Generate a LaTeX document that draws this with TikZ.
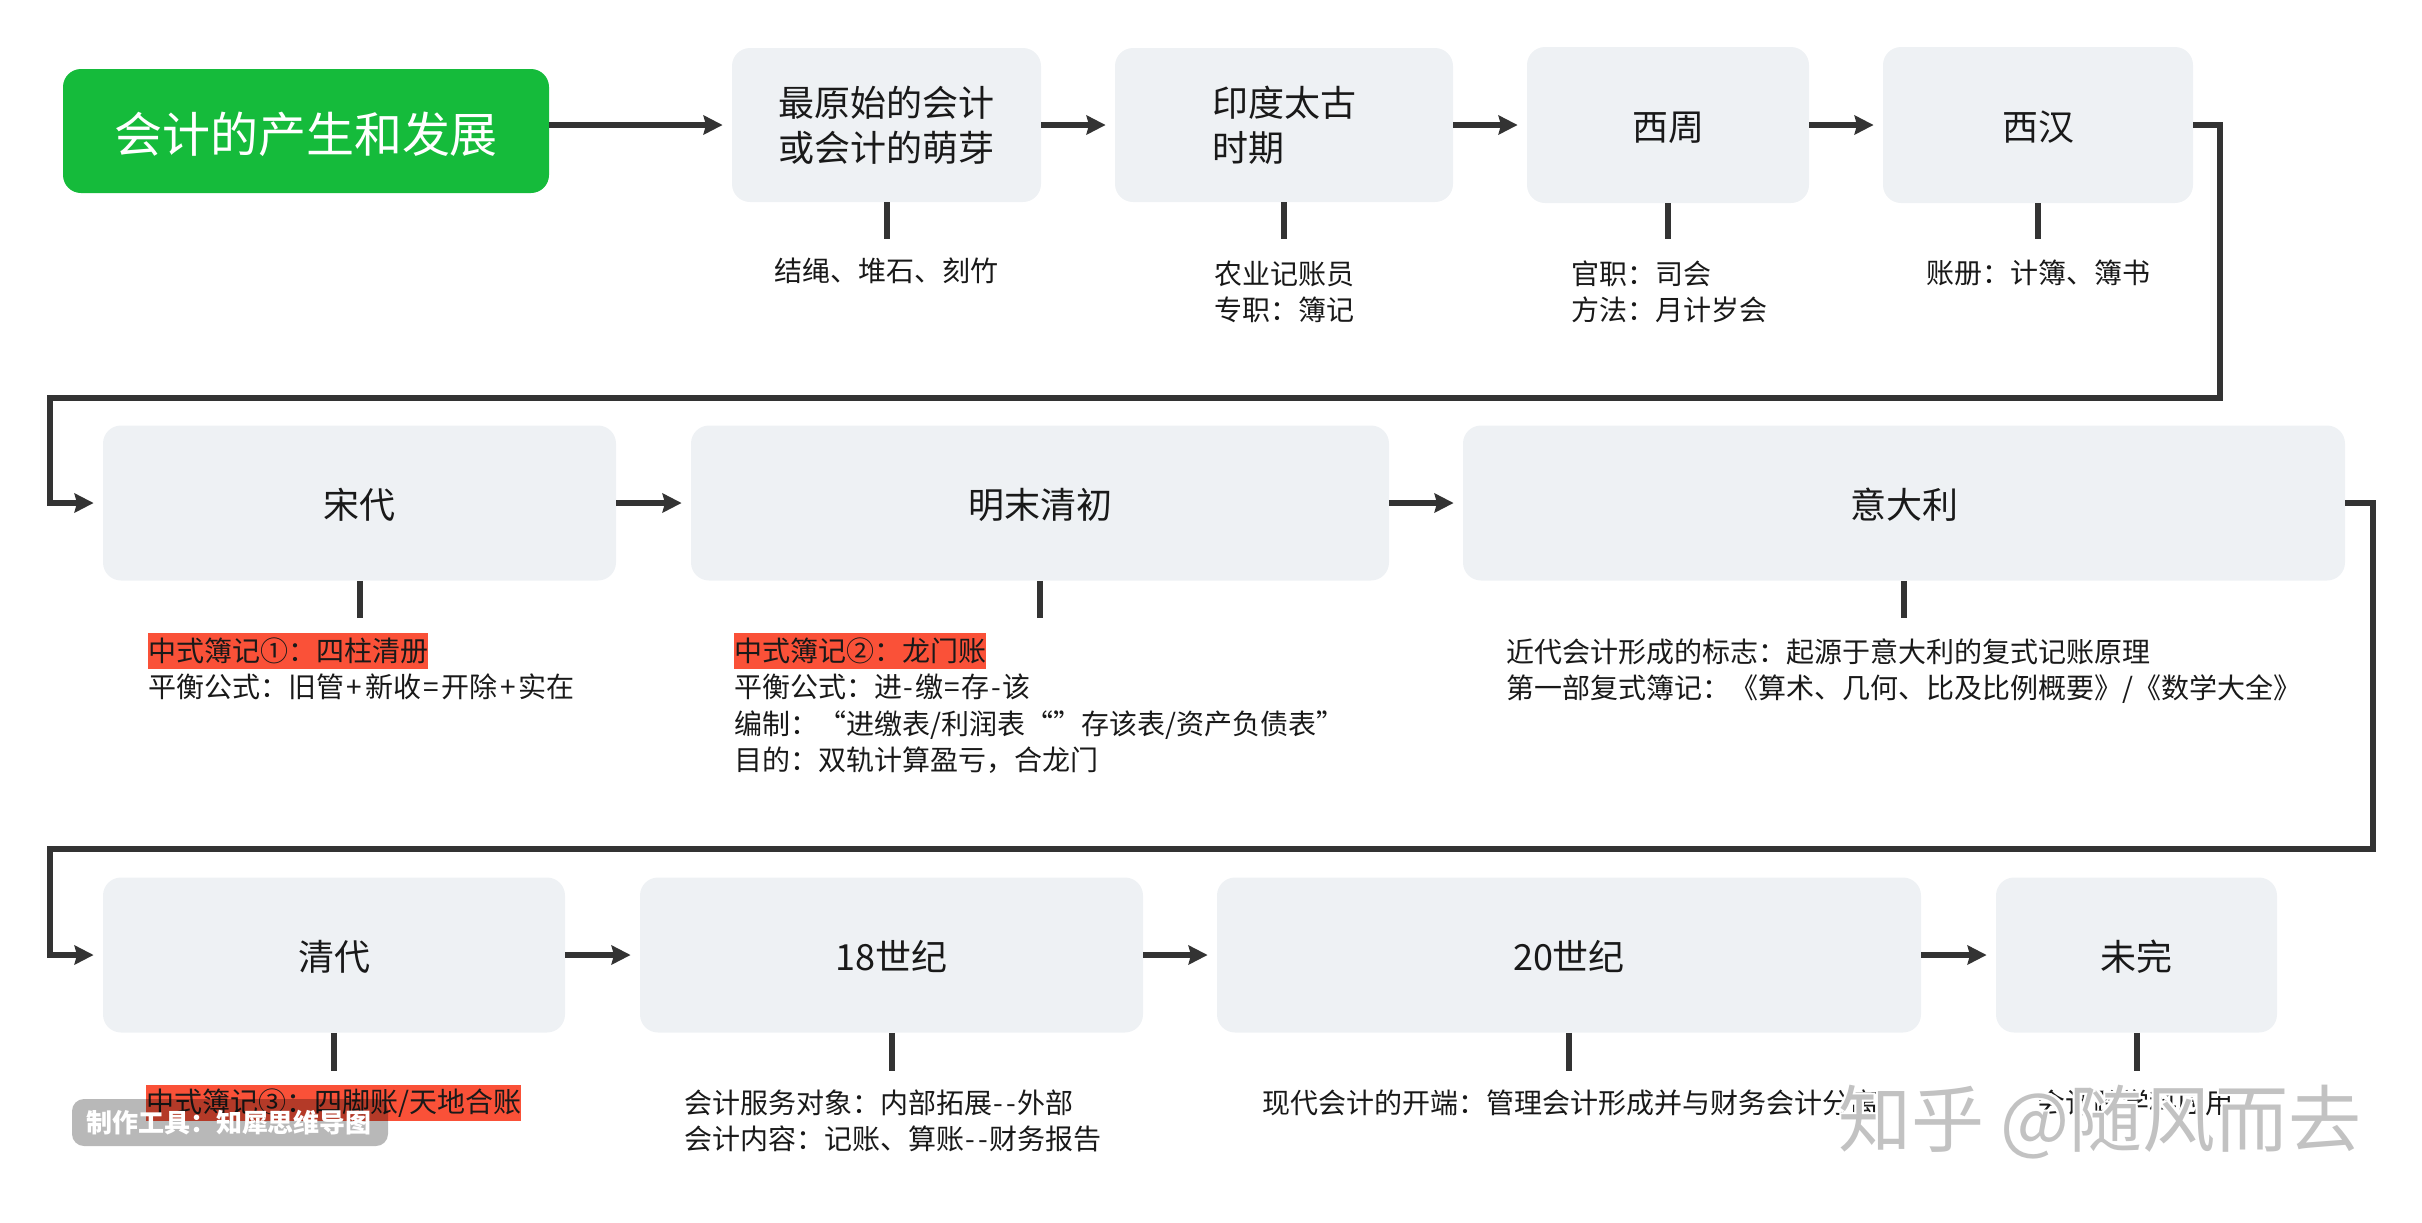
\documentclass[tikz,border=0pt]{standalone}
\usepackage{fontspec}
\setmainfont{Noto Sans CJK SC}
\usetikzlibrary{arrows.meta}
\definecolor{boxgray}{HTML}{EEF1F4}
\definecolor{rootgreen}{HTML}{15BB3B}
\definecolor{linedark}{HTML}{333333}
\definecolor{hlred}{HTML}{FA5138}
\definecolor{wmgray}{HTML}{C2C2C2}
\newcommand\wideop[1]{\kern1.3pt#1\kern1.3pt}
\newcommand\narrowop[1]{\kern.75pt#1\kern.75pt}
\tikzset{
  gbox/.style={fill=boxgray,rounded corners=9pt,inner sep=0pt,minimum height=77.5pt,font=\fontsize{18}{22.5}\selectfont,text=black!90},
  oneline/.style={text height=16pt,text depth=1pt},
  rootbox/.style={fill=rootgreen,rounded corners=9pt,inner sep=0pt,minimum width=243pt,minimum height=62pt,text=white,text height=22pt,text depth=.8pt,font=\fontsize{24}{28}\selectfont},
  flow/.style={draw=linedark,line width=3pt,line join=miter,-{Stealth[length=9.5pt,width=9.5pt,inset=1.2pt]},shorten >=4.5pt},
  stemline/.style={draw=linedark,line width=3pt},
  sublabel/.style={inner sep=0pt,align=left,anchor=west,font=\fontsize{14}{18.25}\selectfont,text=black!90},
  hilite/.style={sublabel,fill=hlred,minimum height=18pt},
  tagbox/.style={fill=black,fill opacity=.28,rounded corners=6pt,inner sep=0pt,minimum width=158pt,minimum height=23.5pt},
  tagtext/.style={inner sep=0pt,text=white,font=\fontsize{13}{15}\bfseries\selectfont},
  wmark/.style={inner sep=0pt,anchor=west,font=\fontsize{36.5}{40}\selectfont}
}
\begin{document}
\begin{tikzpicture}[x=.5pt,y=-.5pt]
\useasboundingbox (0,0) rectangle (2422,1222);
% nodes
\node[rootbox] (r) at (306,131) {会计的产生和发展};
\node[gbox,align=left,minimum width=154.5pt,minimum height=77pt] (b1) at (886.5,125) {最原始的会计\\或会计的萌芽};
\node[gbox,align=left,minimum width=169pt,minimum height=77pt] (b2) at (1284,125) {印度太古\\时期};
\node[gbox,oneline,minimum width=141pt,minimum height=78pt] (b3) at (1668,125) {西周};
\node[gbox,oneline,minimum width=155pt,minimum height=78pt] (b4) at (2038,125) {西汉};
\node[gbox,oneline,minimum width=256.5pt] (c1) at (359.5,503) {宋代};
\node[gbox,oneline,minimum width=349pt] (c2) at (1040,503) {明末清初};
\node[gbox,oneline,minimum width=441pt] (c3) at (1904,503) {意大利};
\node[gbox,oneline,minimum width=231pt] (d1) at (334,955) {清代};
\node[gbox,oneline,minimum width=251.5pt] (d2) at (891.5,955) {18世纪};
\node[gbox,oneline,minimum width=352pt] (d3) at (1569,955) {20世纪};
\node[gbox,oneline,minimum width=140.5pt] (d4) at (2136.5,955) {未完};
% labels
\node[sublabel] (l1) at (774,271) {结绳、堆石、刻竹};
\node[sublabel] (l2) at (1214,292) {农业记账员\\专职：簿记};
\node[sublabel] (l3) at (1571,292) {官职：司会\\方法：月计岁会};
\node[sublabel] (l4) at (1926,273) {账册：计簿、簿书};
\node[hilite] (m1h) at (148,651) {中式簿记①：四柱清册};
\node[sublabel] (m1) at (148,687) {平衡公式：旧管\wideop{+}新收\wideop{=}开除\wideop{+}实在};
\node[hilite] (m2h) at (734,651) {中式簿记②：龙门账};
\node[sublabel] (m2) at (734,724) {平衡公式：进\narrowop{-}缴\narrowop{=}存\narrowop{-}该\\编制：“进缴表/利润表“”存该表/资产负债表”\\目的：双轨计算盈亏，合龙门};
\node[sublabel] (m3) at (1506,671) {近代会计形成的标志：起源于意大利的复式记账原理\\第一部复式簿记：《算术、几何、比及比例概要》/《数学大全》};
\node[hilite] (n1) at (146,1103) {中式簿记③：四脚账/天地合账};
\node[sublabel] (n2) at (684,1121) {会计服务对象：内部拓展\narrowop{-}\narrowop{-}外部\\会计内容：记账、算账\narrowop{-}\narrowop{-}财务报告};
\node[sublabel] (n3) at (1262,1103) {现代会计的开端：管理会计形成并与财务会计分离};
\node[sublabel] (n4) at (2037,1103) {会计跨学科应用};
% turning points
\coordinate (t1) at (2220,398);
\coordinate (t2) at (50,398);
\coordinate (t3) at (2373,849);
\coordinate (t4) at (50,849);
% flow connectors
\draw[flow] (r.east |- b1.west) -- (b1.west);
\draw[flow] (b1) -- (b2);
\draw[flow] (b2) -- (b3);
\draw[flow] (b3) -- (b4);
\draw[flow] (b4.east) -- (b4.east -| t1) -- (t1) -- (t2) -- (t2 |- c1.west) -- (c1.west);
\draw[flow] (c1) -- (c2);
\draw[flow] (c2) -- (c3);
\draw[flow] (c3.east) -- (c3.east -| t3) -- (t3) -- (t4) -- (t4 |- d1.west) -- (d1.west);
\draw[flow] (d1) -- (d2);
\draw[flow] (d2) -- (d3);
\draw[flow] (d3) -- (d4);
% stems
\foreach \n/\len in {b1/37,b2/37,b3/36,b4/36,c1/37,c2/37,c3/37,d1/38,d2/38,d3/38,d4/38}
  \draw[stemline] (\n.south) -- ++(0,\len) coordinate (\n-end);
% marks on top
\node[tagbox] (tg) at (230,1122.5) {};
\node[tagtext] (tgt) at (229,1122.5) {制作工具：知犀思维导图};
\foreach \dx/\dy in {-2/-2,2/-2,-2/2,2/2}
  \node[wmark,text=white] at (1838+\dx,1122+\dy) {知乎 @随风而去};
\node[wmark,text=wmgray] (wm) at (1838,1122) {知乎 @随风而去};
\end{tikzpicture}
\end{document}
